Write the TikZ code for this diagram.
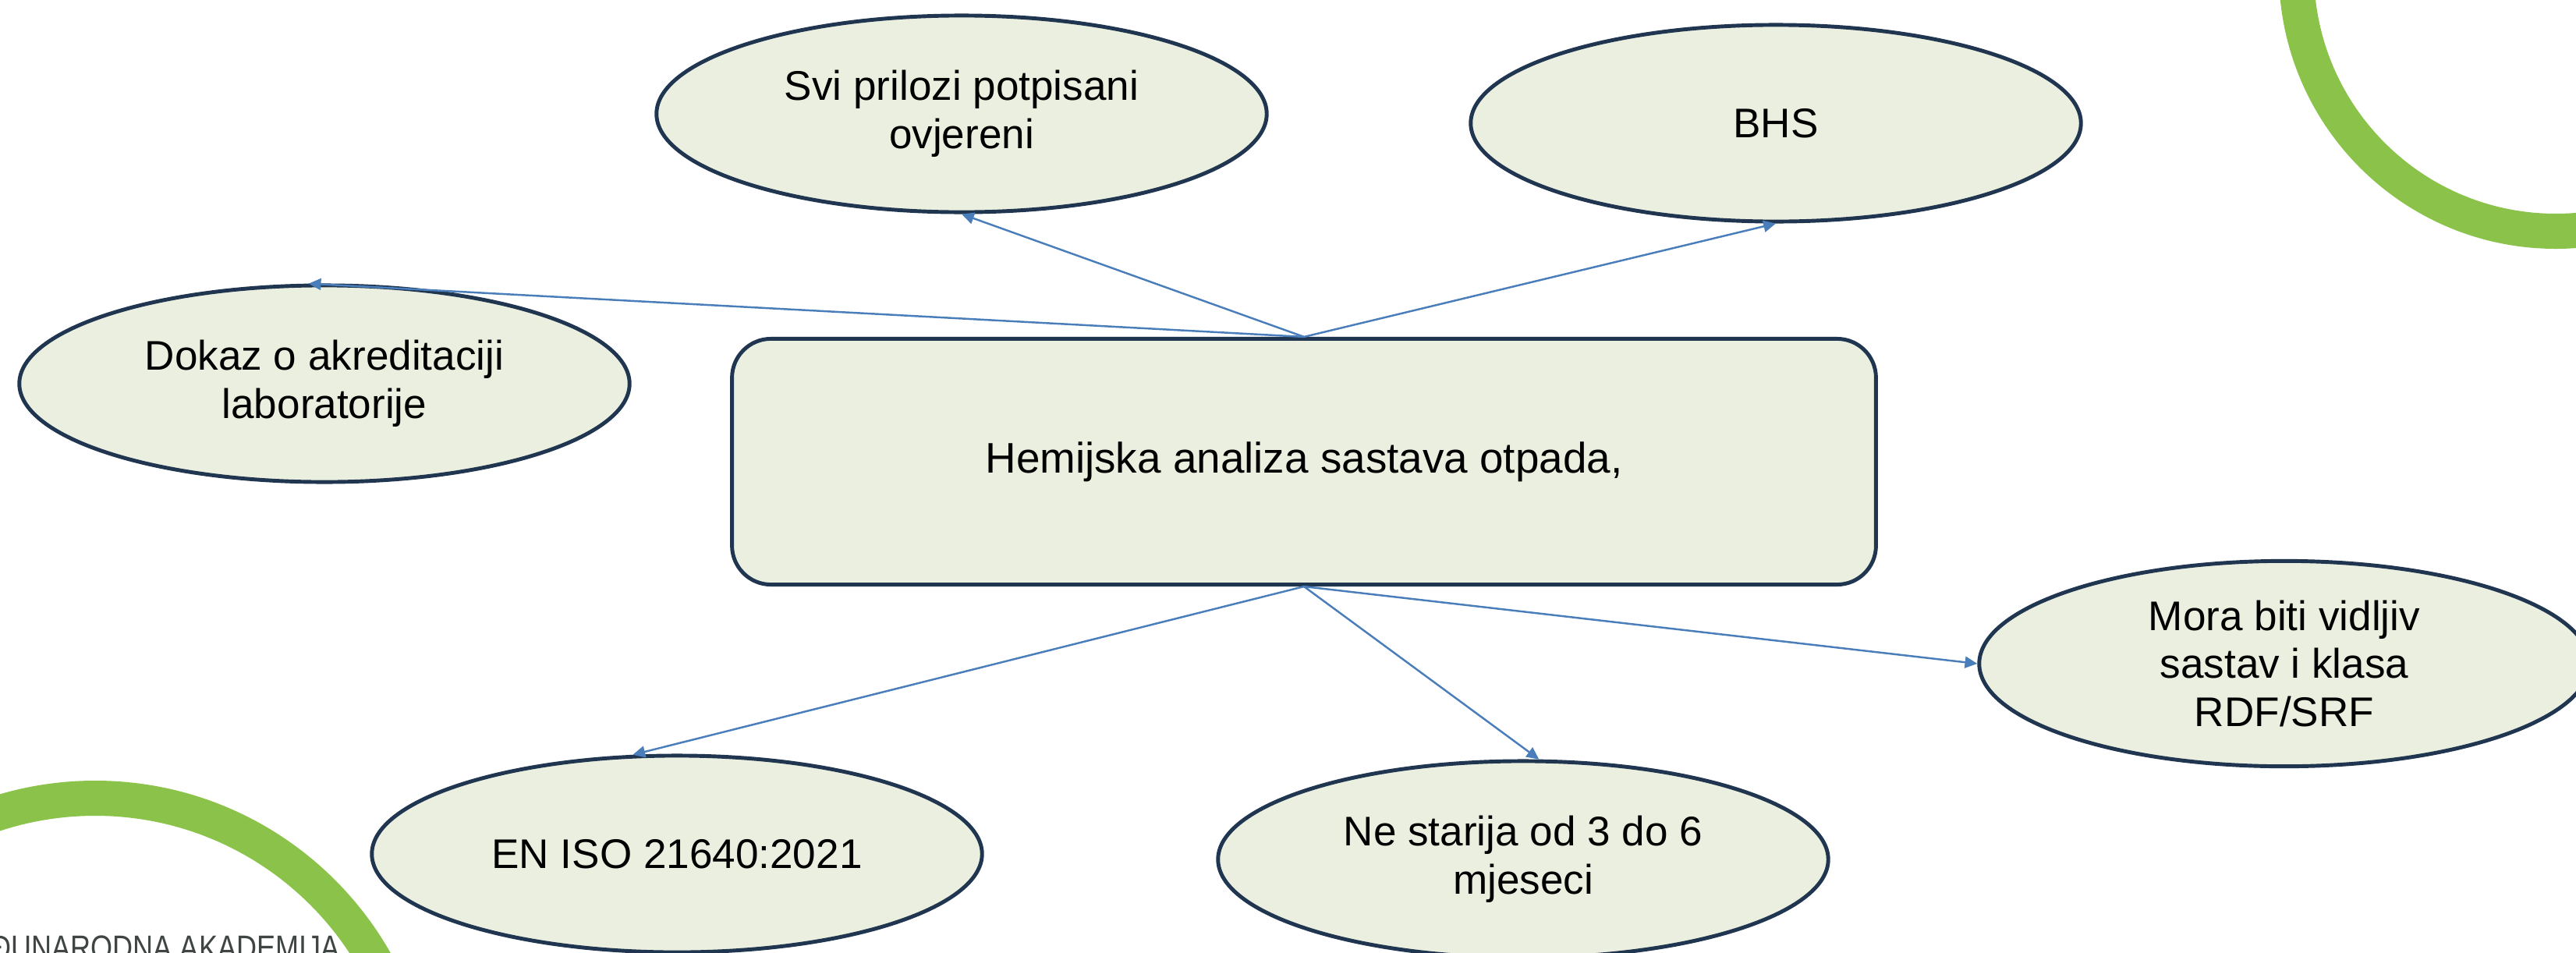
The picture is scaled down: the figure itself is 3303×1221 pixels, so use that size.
\documentclass[tikz,border=0pt]{standalone}
\usepackage{fontspec}
\setmainfont{Liberation Sans}
\usetikzlibrary{shapes.geometric,arrows.meta}
\definecolor{navy}{HTML}{1F3550}
\definecolor{pale}{HTML}{EBEFDF}
\definecolor{linkblue}{HTML}{4A7EBB}
\definecolor{leaf}{HTML}{8BC34A}
\definecolor{logogrey}{HTML}{3E4542}
\begin{document}
\begin{tikzpicture}[x=0.01cm, y=-0.01cm,
   oval/.style={ellipse, draw=navy, fill=pale, line width=1.4pt, minimum width=7.82cm,
      minimum height=2.52cm, align=center, font=\fontsize{15.1}{17.6}\selectfont},
   conn/.style={draw=linkblue, line width=0.7pt, -{Triangle[length=4.5pt, width=4.2pt]}}]
   \useasboundingbox (0,0) rectangle (3303,1221);
   \clip (0,0) rectangle (3303,1221);
   \draw[leaf, line width=0.45cm] (3277,-36) circle[radius=332.5];
   \draw[leaf, line width=0.45cm] (122,1436) circle[radius=412.5];
   \node[anchor=base west, inner sep=0pt, text=logogrey, font=\fontsize{12.5}{14}\selectfont]
      (logo) at (-12,1230) {\scalebox{0.82}[1]{ĐUNARODNA AKADEMIJA}};
   \node[draw=navy, fill=pale, line width=1.4pt, rounded corners=0.5cm, minimum width=14.66cm,
      minimum height=3.15cm, font=\fontsize{15.6}{17.9}\selectfont] (box) at (1672,592)
      {Hemijska analiza sastava otpada,};
   \node[oval] (svi) at (1233,146) {Svi prilozi potpisani\\ovjereni};
   \node[oval] (bhs) at (2277,158) {BHS};
   \node[oval] (dokaz) at (416,492) {Dokaz o akreditaciji\\laboratorije};
   \node[oval] (mora) at (2929,851) {Mora biti vidljiv\\sastav i klasa\\RDF/SRF};
   \node[oval] (eniso) at (868,1095) {EN ISO 21640:2021};
   \node[oval] (nestarija) at (1953,1102) {Ne starija od 3 do 6\\mjeseci};
   \draw[conn] (box.north) -- (svi.south);
   \draw[conn] (box.north) -- (bhs.south);
   \draw[conn] (box.north) -- (dokaz.99);
   \draw[conn] (box.south) -- (eniso.114);
   \draw[conn] (box.south) -- (nestarija.81);
   \draw[conn] (box.south) -- (mora.west);
\end{tikzpicture}
\end{document}
